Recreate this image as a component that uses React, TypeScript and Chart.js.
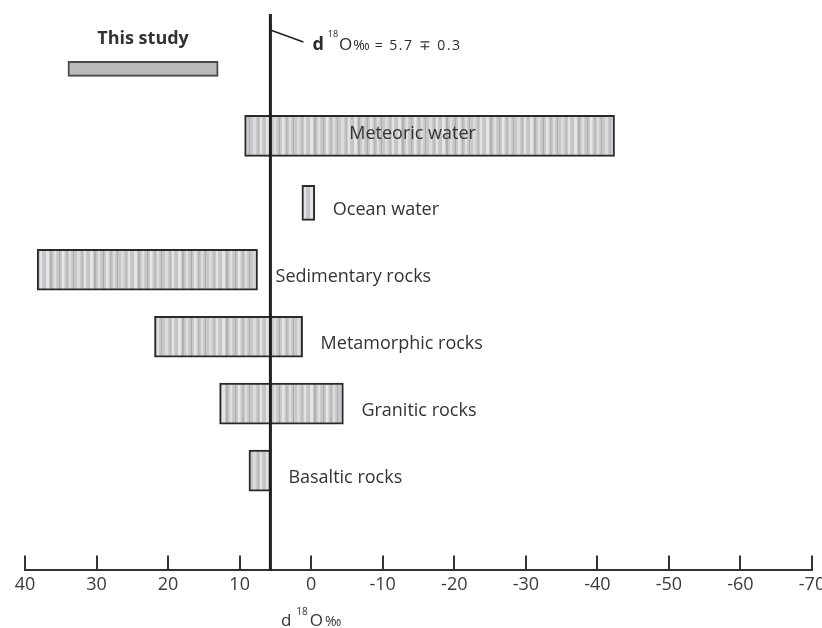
import { useEffect, useRef } from "react";
import { Chart, registerables } from "chart.js";

Chart.register(...registerables);

// δ18O ranges (‰)
const categories = [
  "This study",
  "Meteoric water",
  "Ocean water",
  "Sedimentary rocks",
  "Metamorphic rocks",
  "Granitic rocks",
  "Basaltic rocks",
];
const rangeStart = [34, 9.3, 1.3, 38.3, 21.9, 12.8, 8.7];
const rangeEnd = [13, -42.4, -0.5, 7.5, 1.2, -4.5, 5.7];
const xTickValues = [40, 30, 20, 10, 0, -10, -20, -30, -40, -50, -60, -70];
const mantleValue = 5.7;
const mantleError = 0.3;
const axisTitleParts = ["d", "18", "O", "‰"];

const FONT = '"Open Sans", sans-serif';

function makeStripePattern(): CanvasPattern | string {
  const c = document.createElement("canvas");
  const greys = [
    196, 196, 228, 228, 228, 200, 176, 176, 200, 200, 224, 224, 204, 198, 198,
    170, 200, 200, 230, 230, 214, 200, 186, 186, 200, 222, 222, 202, 200, 172,
    200, 200, 200, 218, 218, 218, 200, 196, 182, 204, 226, 226, 200, 200,
  ];
  c.width = greys.length;
  c.height = 4;
  const g = c.getContext("2d");
  if (!g) return "#c8c8c8";
  greys.forEach((v, i) => {
    g.fillStyle = `rgb(${v},${v},${v + 2})`;
    g.fillRect(i, 0, 1, 4);
  });
  const p = g.createPattern(c, "repeat");
  return p || "#c8c8c8";
}

const overlayPlugin = {
  id: "overlay",
  afterDatasetsDraw(chart: any) {
    const { ctx, chartArea, scales } = chart;
    const xs = scales.x;
    ctx.save();

    // upward tick marks on the x axis
    ctx.strokeStyle = "#333";
    ctx.lineWidth = 2;
    xs.ticks.forEach((t: any) => {
      const px = Math.round(xs.getPixelForValue(t.value));
      ctx.beginPath();
      ctx.moveTo(px, chartArea.bottom);
      ctx.lineTo(px, chartArea.bottom - 15);
      ctx.stroke();
    });

    // mantle reference line
    const lx = xs.getPixelForValue(mantleValue);
    ctx.strokeStyle = "#1e1e1e";
    ctx.lineWidth = 3;
    ctx.beginPath();
    ctx.moveTo(lx, chartArea.top);
    ctx.lineTo(lx, chartArea.bottom);
    ctx.stroke();

    // leader line + annotation
    ctx.lineWidth = 1.5;
    ctx.beginPath();
    ctx.moveTo(lx, chartArea.top + 16);
    ctx.lineTo(lx + 33, chartArea.top + 28);
    ctx.stroke();

    const base = chartArea.top + 36;
    let tx = lx + 42;
    ctx.fillStyle = "#2a2a2a";
    ctx.textBaseline = "alphabetic";
    ctx.textAlign = "left";
    ctx.font = `bold 18px ${FONT}`;
    ctx.fillText("d", tx, base);
    tx += ctx.measureText("d").width + 4;
    ctx.font = `9px ${FONT}`;
    ctx.fillText("18", tx, base - 13);
    tx += ctx.measureText("18").width + 1;
    ctx.font = `17px ${FONT}`;
    ctx.fillText("O", tx, base);
    tx += ctx.measureText("O").width + 1;
    ctx.font = `14px ${FONT}`;
    ctx.fillText("‰", tx, base);
    tx += ctx.measureText("‰").width + 5;
    ctx.font = `14px ${FONT}`;
    (ctx as any).letterSpacing = "1.5px";
    ctx.fillText(`= ${mantleValue} ∓ ${mantleError}`, tx, base);
    (ctx as any).letterSpacing = "0px";

    // x axis title, centred under 0
    {
      const [d, sup, o, pm] = axisTitleParts;
      const fonts = [`17px ${FONT}`, `10px ${FONT}`, `17px ${FONT}`, `14px ${FONT}`];
      const gaps = [5, 2, 2, 0];
      const parts = [d, sup, o, pm];
      let total = 0;
      const widths = parts.map((p, k) => {
        ctx.font = fonts[k];
        const w = ctx.measureText(p).width;
        total += w + gaps[k];
        return w;
      });
      let ax = xs.getPixelForValue(0) - total / 2;
      const ab = chart.height - 2;
      ctx.fillStyle = "#333";
      ctx.textAlign = "left";
      ctx.textBaseline = "alphabetic";
      parts.forEach((p, k) => {
        ctx.font = fonts[k];
        ctx.fillText(p, ax, k === 1 ? ab - 11 : ab);
        ax += widths[k] + gaps[k];
      });
    }

    // category labels
    categories.forEach((name, i) => {
      const meta = chart.getDatasetMeta(i);
      const el = meta.data[0];
      if (!el) return;
      const left = Math.min(el.x, el.base);
      const right = Math.max(el.x, el.base);
      ctx.fillStyle = "#333";
      ctx.textBaseline = "middle";
      if (i === 0) {
        ctx.font = `bold 18px ${FONT}`;
        ctx.textAlign = "center";
        ctx.fillText(name, (left + right) / 2, el.y - 30);
      } else if (name === "Meteoric water") {
        ctx.font = `18px ${FONT}`;
        ctx.textAlign = "center";
        ctx.fillText(name, (left + right) / 2 - 17, el.y - 2);
      } else {
        ctx.font = `18px ${FONT}`;
        ctx.textAlign = "left";
        ctx.fillText(name, right + 18, el.y + 7);
      }
    });

    ctx.restore();
  },
};

export default function App() {
  const ref = useRef<HTMLCanvasElement | null>(null);

  useEffect(() => {
    if (!ref.current) return;
    const stripes = makeStripePattern();
    const datasets = categories.map((name, i) => ({
      label: name,
      data: [{ x: [rangeStart[i], rangeEnd[i]], y: i }],
      backgroundColor: i === 0 ? "#bababa" : stripes,
      borderColor: i === 0 ? "#4a4a4a" : "#2a2a2a",
      borderWidth: 2,
      borderSkipped: false,
      barThickness: i === 0 ? 15 : name === "Ocean water" ? 35 : 41,
      grouped: false,
    }));

    const chart = new Chart(ref.current, {
      type: "bar",
      data: { datasets: datasets as any },
      options: {
        indexAxis: "y",
        animation: false,
        responsive: true,
        maintainAspectRatio: false,
        layout: { padding: { left: 25, right: 10, top: 14, bottom: 28 } },
        plugins: {
          legend: { display: false },
          tooltip: { enabled: false },
        },
        scales: {
          x: {
            type: "linear",
            min: -70,
            max: 40,
            reverse: true,
            afterBuildTicks: (scale: any) => {
              scale.ticks = xTickValues.map((v) => ({ value: v }));
            },
            afterFit: (scale: any) => {
              scale.paddingLeft = 0;
              scale.paddingRight = 0;
            },
            grid: { display: false, drawTicks: false, tickLength: 0 },
            border: { display: true, color: "#333", width: 2 },
            ticks: {
              padding: 4,
              color: "#3a3a3a",
              font: { family: FONT, size: 18 },
              callback: (v: any) => String(v),
            },
            title: { display: false },
          },
          y: {
            type: "linear",
            display: false,
            reverse: true,
            offset: false,
            min: -0.82,
            max: 7.49,
          },
        },
      },
      plugins: [overlayPlugin],
    });
    return () => chart.destroy();
  }, []);

  return (
    <div
      style={{
        position: "fixed",
        left: 0,
        top: 0,
        width: 822,
        height: 628,
        background: "#fff",
      }}
    >
      <canvas ref={ref} />
    </div>
  );
}
